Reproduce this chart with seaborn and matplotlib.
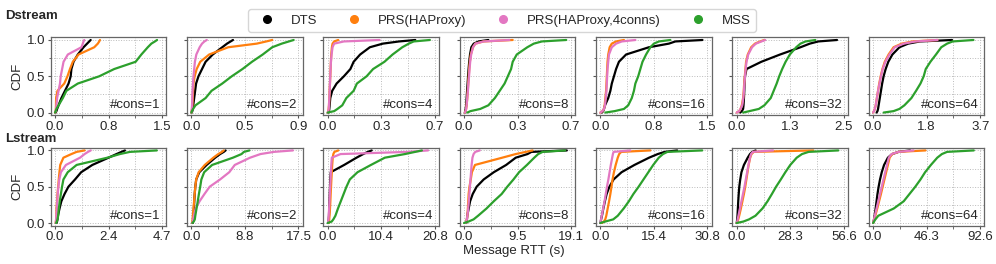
import pandas as pd
import matplotlib
matplotlib.use('Agg')
import matplotlib.pyplot as plt
from matplotlib.lines import Line2D
import seaborn as sns

# CDF levels shared by every curve
P = [0, .02, .05, .1, .2, .3, .4, .5, .6, .7, .8, .9, .95, .98, 1.0]
CONS = [1, 2, 4, 8, 16, 32, 64]
XMAX_D = [1.5, 0.9, 0.66, 0.66, 1.5, 2.52, 3.66]
XMAX_L = [4.7, 17.5, 20.8, 19.06, 30.8, 56.6, 92.6]
METHODS = ['DTS', 'PRS(HAProxy)', 'PRS(HAProxy,4conns)', 'MSS']
COLORS = ['black', '#ff7f0e', '#e377c2', '#2ca02c']

# Dstream: RTT (s) at each CDF level, one list per #cons
D_DTS = [
    [0.01, 0.02, 0.03, 0.05, 0.09, 0.14, 0.19, 0.22, 0.23, 0.26, 0.32, 0.40, 0.45, 0.48, 0.50],
    [0.004, 0.008, 0.012, 0.016, 0.024, 0.032, 0.04, 0.06, 0.09, 0.12, 0.18, 0.26, 0.30, 0.33, 0.35],
    [0.005, 0.008, 0.01, 0.012, 0.016, 0.028, 0.055, 0.10, 0.14, 0.16, 0.20, 0.26, 0.34, 0.44, 0.54],
    [0.005, 0.008, 0.01, 0.013, 0.016, 0.019, 0.022, 0.025, 0.028, 0.032, 0.037, 0.045, 0.06, 0.09, 0.15],
    [0.02, 0.04, 0.05, 0.065, 0.11, 0.14, 0.16, 0.19, 0.22, 0.26, 0.36, 0.68, 0.96, 1.05, 1.43],
    [0.08, 0.12, 0.15, 0.16, 0.17, 0.178, 0.185, 0.195, 0.23, 0.58, 1.02, 1.50, 1.72, 1.92, 2.36],
    [0.12, 0.15, 0.17, 0.19, 0.23, 0.27, 0.31, 0.36, 0.43, 0.52, 0.66, 0.90, 1.20, 1.60, 2.70],
]
D_PRS = [
    [0.0, 0.01, 0.012, 0.014, 0.016, 0.035, 0.13, 0.175, 0.21, 0.25, 0.33, 0.55, 0.60, 0.62, 0.63],
    [0.0, 0.003, 0.006, 0.009, 0.012, 0.015, 0.018, 0.028, 0.045, 0.075, 0.15, 0.31, 0.55, 0.63, 0.68],
    [0.0, 0.004, 0.006, 0.008, 0.01, 0.012, 0.014, 0.016, 0.018, 0.02, 0.022, 0.026, 0.03, 0.04, 0.065],
    [0.005, 0.01, 0.013, 0.016, 0.02, 0.023, 0.026, 0.029, 0.032, 0.036, 0.042, 0.055, 0.07, 0.12, 0.30],
    [0.0, 0.03, 0.05, 0.06, 0.07, 0.08, 0.085, 0.09, 0.095, 0.10, 0.11, 0.13, 0.16, 0.22, 0.33],
    [0.0, 0.06, 0.09, 0.12, 0.15, 0.165, 0.175, 0.19, 0.205, 0.22, 0.26, 0.34, 0.43, 0.55, 0.65],
    [0.0, 0.03, 0.06, 0.09, 0.13, 0.17, 0.21, 0.26, 0.32, 0.40, 0.53, 0.70, 0.98, 1.35, 2.2],
]
D_PRS4 = [
    [0.0, 0.01, 0.015, 0.02, 0.03, 0.05, 0.07, 0.08, 0.10, 0.12, 0.18, 0.37, 0.39, 0.40, 0.41],
    [0.0, 0.002, 0.004, 0.006, 0.008, 0.01, 0.014, 0.018, 0.024, 0.03, 0.042, 0.07, 0.09, 0.11, 0.13],
    [0.0, 0.004, 0.006, 0.008, 0.01, 0.012, 0.014, 0.016, 0.018, 0.02, 0.024, 0.03, 0.04, 0.10, 0.32],
    [0.005, 0.01, 0.013, 0.016, 0.02, 0.024, 0.027, 0.031, 0.034, 0.038, 0.044, 0.055, 0.07, 0.12, 0.28],
    [0.0, 0.03, 0.05, 0.065, 0.075, 0.085, 0.09, 0.095, 0.10, 0.11, 0.12, 0.16, 0.22, 0.30, 0.49],
    [0.0, 0.06, 0.09, 0.13, 0.155, 0.17, 0.18, 0.195, 0.21, 0.23, 0.27, 0.36, 0.45, 0.58, 0.67],
    [0.0, 0.03, 0.06, 0.09, 0.13, 0.17, 0.22, 0.27, 0.33, 0.42, 0.56, 0.74, 1.05, 1.45, 2.2],
]
D_MSS = [
    [0.0, 0.01, 0.02, 0.05, 0.11, 0.16, 0.32, 0.62, 0.83, 1.13, 1.21, 1.30, 1.35, 1.40, 1.43],
    [0.0, 0.005, 0.015, 0.035, 0.12, 0.17, 0.26, 0.34, 0.43, 0.51, 0.60, 0.68, 0.76, 0.82, 0.86],
    [0.0, 0.04, 0.06, 0.09, 0.115, 0.16, 0.18, 0.24, 0.28, 0.35, 0.40, 0.46, 0.50, 0.53, 0.63],
    [0.02, 0.04, 0.10, 0.15, 0.19, 0.22, 0.25, 0.27, 0.29, 0.30, 0.325, 0.39, 0.43, 0.48, 0.63],
    [0.07, 0.20, 0.33, 0.39, 0.44, 0.47, 0.49, 0.53, 0.56, 0.59, 0.64, 0.70, 0.75, 0.82, 0.98],
    [0.15, 0.30, 0.52, 0.65, 0.80, 0.87, 0.94, 1.00, 1.07, 1.15, 1.25, 1.40, 1.50, 1.62, 1.85],
    [0.36, 0.70, 0.90, 1.07, 1.31, 1.47, 1.62, 1.73, 1.80, 1.96, 2.15, 2.33, 2.53, 2.72, 3.43],
]

# Lstream
L_DTS = [
    [0.07, 0.09, 0.11, 0.13, 0.20, 0.28, 0.42, 0.59, 0.88, 1.15, 1.64, 2.35, 2.70, 2.92, 3.07],
    [0.25, 0.28, 0.32, 0.36, 0.42, 0.48, 0.55, 0.65, 0.80, 1.3, 2.5, 3.9, 4.7, 5.3, 5.6],
    [0.1, 0.15, 0.2, 0.25, 0.3, 0.35, 0.4, 0.45, 0.5, 0.6, 3.2, 5.6, 6.9, 7.8, 8.55],
    [0.42, 0.48, 0.52, 0.57, 0.83, 1.08, 1.55, 2.25, 3.5, 5.3, 7.5, 9.2, 11.3, 12.0, 18.3],
    [0.0, 0.1, 0.2, 0.45, 0.85, 1.3, 1.8, 2.6, 3.8, 6.1, 9.8, 14.0, 16.5, 18.5, 22.1],
    [0.0, 0.1, 0.25, 0.4, 0.6, 0.8, 1.05, 1.35, 1.85, 2.5, 3.8, 5.8, 7.0, 8.2, 10.0],
    [0.0, 0.4, 0.8, 1.3, 2.2, 3.0, 3.8, 4.8, 6.0, 7.5, 9.5, 12.8, 16.5, 22.0, 32.0],
]
L_PRS = [
    [0.03, 0.04, 0.05, 0.06, 0.065, 0.09, 0.11, 0.14, 0.165, 0.195, 0.23, 0.37, 0.72, 0.95, 1.3],
    [0.1, 0.15, 0.2, 0.25, 0.35, 0.45, 0.55, 0.65, 0.80, 1.2, 2.2, 3.6, 4.4, 5.0, 5.3],
    [0.2, 0.25, 0.3, 0.35, 0.45, 0.52, 0.58, 0.65, 0.72, 0.8, 0.88, 0.98, 1.1, 1.3, 2.06],
    [0.3, 0.4, 0.5, 0.6, 0.68, 0.75, 0.82, 0.97, 1.2, 1.4, 1.95, 6.8, 9.2, 11.0, 12.2],
    [0.5, 1.0, 1.4, 1.7, 2.1, 2.5, 2.87, 3.2, 3.5, 3.9, 4.4, 5.0, 5.4, 6.0, 14.4],
    [0.0, 0.5, 0.8, 1.3, 2.2, 3.0, 3.8, 4.5, 5.1, 5.7, 6.3, 7.1, 7.8, 9.0, 40.5],
    [0.0, 0.4, 1.0, 1.9, 3.6, 5.2, 6.8, 8.3, 9.8, 11.3, 12.8, 14.3, 16.5, 22.0, 45.3],
]
L_PRS4 = [
    [0.03, 0.04, 0.05, 0.06, 0.08, 0.10, 0.12, 0.15, 0.19, 0.26, 0.48, 1.10, 1.30, 1.45, 1.57],
    [0.15, 0.25, 0.3, 0.42, 0.72, 1.35, 2.15, 3.0, 4.7, 6.2, 7.1, 9.6, 11.3, 13.5, 16.6],
    [0.05, 0.1, 0.15, 0.2, 0.28, 0.35, 0.42, 0.48, 0.55, 0.62, 0.70, 0.80, 2.5, 15.5, 19.5],
    [0.3, 0.4, 0.5, 0.6, 0.75, 0.85, 0.95, 1.05, 1.15, 1.25, 1.35, 1.5, 1.7, 2.0, 2.8],
    [0.0, 0.08, 0.2, 0.4, 0.8, 1.2, 1.55, 1.9, 2.3, 2.65, 3.0, 3.4, 3.6, 3.8, 8.6],
    [0.0, 0.3, 0.5, 0.9, 1.7, 2.5, 3.3, 4.1, 4.8, 5.5, 6.2, 7.0, 7.6, 8.5, 19.2],
    [0.0, 0.3, 0.8, 1.5, 3.0, 4.5, 6.0, 7.5, 9.0, 10.5, 12.0, 13.6, 16.0, 22.0, 35.0],
]
L_MSS = [
    [0.05, 0.08, 0.11, 0.14, 0.17, 0.21, 0.26, 0.31, 0.37, 0.56, 0.95, 2.30, 2.85, 3.29, 4.47],
    [0.16, 0.4, 0.57, 0.65, 0.85, 1.05, 1.24, 1.45, 1.64, 2.1, 3.4, 6.8, 8.2, 8.6, 9.5],
    [0.0, 0.78, 1.1, 1.5, 2.0, 2.55, 3.1, 3.65, 4.3, 5.8, 8.4, 11.1, 15.0, 17.0, 18.3],
    [0.0, 0.8, 1.7, 2.5, 4.0, 5.3, 6.7, 7.7, 8.8, 9.8, 11.2, 12.5, 13.2, 14.0, 18.0],
    [0.0, 1.4, 3.7, 5.0, 6.7, 8.2, 9.5, 11.0, 12.4, 13.8, 15.2, 16.8, 18.0, 19.3, 29.3],
    [0.0, 3.5, 6.5, 9.9, 13.6, 16.3, 18.6, 20.8, 23.3, 25.7, 28.3, 31.7, 34.5, 38.0, 53.7],
    [0.0, 0.8, 2.0, 4.5, 17.9, 26.5, 31.5, 36.5, 41.0, 45.0, 50.0, 55.5, 59.5, 64.0, 87.1],
]

sns.set_theme(style='ticks')
plt.rcParams['font.family'] = ['Liberation Sans', 'DejaVu Sans']
plt.rcParams['xtick.direction'] = 'out'
plt.rcParams['ytick.direction'] = 'out'

rows = [
    ('Dstream', XMAX_D, [D_DTS, D_PRS, D_PRS4, D_MSS]),
    ('Lstream', XMAX_L, [L_DTS, L_PRS, L_PRS4, L_MSS]),
]

fig, axes = plt.subplots(2, 7, figsize=(9.96, 2.64), dpi=100)
fig.subplots_adjust(left=0.0509, right=0.9884, bottom=0.1443, top=0.8595,
                    wspace=0.179, hspace=0.409)

for r, (stream, xmaxes, series) in enumerate(rows):
    for c, cons in enumerate(CONS):
        ax = axes[r, c]
        xmax = xmaxes[c]
        recs = []
        for m, vals in zip(METHODS, series):
            for x, p in zip(vals[c], P):
                recs.append({'rtt': x, 'cdf': p, 'method': m})
        df = pd.DataFrame(recs)
        sns.lineplot(data=df, x='rtt', y='cdf', hue='method', hue_order=METHODS,
                     palette=COLORS, estimator=None, sort=False, lw=1.6,
                     legend=False, ax=ax)
        ax.set_xlim(-0.04 * xmax, 1.04 * xmax)
        ax.set_ylim(-0.04, 1.04)
        ax.set_xticks([0, xmax / 2, xmax])
        ax.set_xticklabels([f'{v:.1f}' for v in [0, xmax / 2, xmax]])
        ax.set_xticks([xmax / 4, 3 * xmax / 4], minor=True)
        ax.set_yticks([0, 0.5, 1.0])
        ax.set_yticks([0.25, 0.75], minor=True)
        if c == 0:
            ax.set_yticklabels(['0.0', '0.5', '1.0'])
            ax.set_ylabel('CDF', fontsize=9.5, labelpad=2)
        else:
            ax.set_yticklabels([])
            ax.set_ylabel('')
        ax.set_xlabel('')
        ax.tick_params(which='major', length=2.5, width=0.8, pad=1.5, labelsize=9.5, color='#555555')
        ax.tick_params(which='minor', length=1.8, width=0.6, color='#555555')
        ax.grid(True, which='both', linestyle=':', linewidth=0.7, color='#bbbbbb')
        for s in ax.spines.values():
            s.set_color('#666666')
            s.set_linewidth(0.9)
        ax.text(0.95, 0.13, f'#cons={cons}', transform=ax.transAxes,
                ha='right', va='center', fontsize=9.5)
    fig.text(0.005, [0.939, 0.474][r], stream, fontsize=9.5, fontweight='bold',
             ha='left', va='center')

fig.text(0.5156, 0.049, 'Message RTT (s)', ha='center', va='center', fontsize=9.5)

handles = [Line2D([], [], ls='', marker='o', ms=5.5, color=col) for col in COLORS]
fig.legend(handles, METHODS, loc='upper center', bbox_to_anchor=(0.504, 0.99),
           ncol=4, fontsize=9.5, columnspacing=1.8, handletextpad=0.8,
           frameon=True, borderpad=0.4)

fig.savefig('out.png', dpi=100)
